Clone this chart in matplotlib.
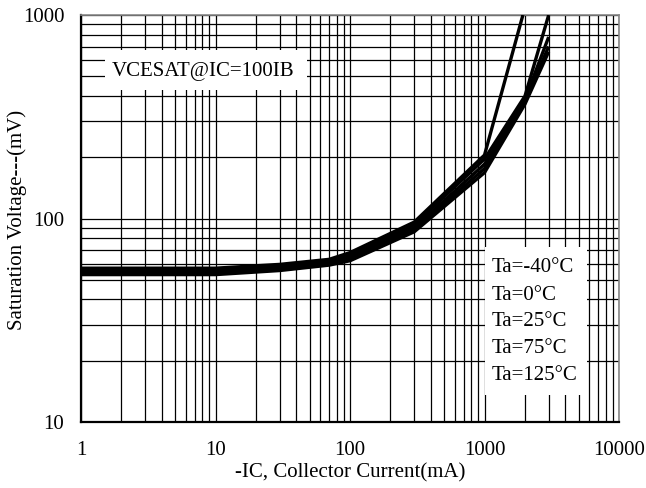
import matplotlib
matplotlib.use("Agg")
import matplotlib.pyplot as plt
from matplotlib.ticker import LogLocator, FixedLocator, NullFormatter
from matplotlib.patches import Rectangle
import numpy as np

plt.rcParams['font.family'] = ['Liberation Serif', 'DejaVu Serif']

# Data
x_a = [1, 3, 10, 30, 70, 100, 300, 1000, 1930]
y_a = [57, 57, 57, 59.5, 63, 68, 96, 205, 1000]
x_b = [1, 3, 10, 30, 70, 100, 300, 1000, 2000, 3000]
y_b = [56, 56, 56, 58.5, 62, 66, 93, 196, 400, 1000]
x_c = [1, 3, 10, 30, 70, 100, 300, 1000, 2000, 3000]
y_c = [55, 55, 55, 57.5, 61, 65, 90, 185, 385, 780]
x_d = [1, 3, 10, 30, 70, 100, 300, 1000, 2000, 3000]
y_d = [54, 54, 54, 56.5, 60, 63, 88, 176, 375, 700]
x_e = [1, 3, 10, 30, 70, 100, 300, 1000, 2000, 3000]
y_e = [53, 53, 53, 55.5, 59, 62, 86, 168, 365, 660]

legend_labels = ["Ta=-40°C", "Ta=0°C", "Ta=25°C", "Ta=75°C", "Ta=125°C"]
x_ticks = [1, 10, 100, 1000, 10000]
x_ticklabels = ["1", "10", "100", "1000", "10000"]
y_ticks = [10, 100, 1000]
y_ticklabels = ["10", "100", "1000"]

W, H = 646, 488
L, R, T, B = 81, 619, 15, 422

def ax_x(px):
    return (px - L) / (R - L)

def ax_y(py):
    return 1 - (py - T) / (B - T)

fig = plt.figure(figsize=(W / 100, H / 100), dpi=100)
ax = fig.add_axes([L / W, 1 - B / H, (R - L) / W, (B - T) / H])
ax.set_xscale('log')
ax.set_yscale('log')
ax.set_xlim(1, 10000)
ax.set_ylim(10, 1000)

# grid
ax.xaxis.set_major_locator(FixedLocator(x_ticks))
ax.yaxis.set_major_locator(FixedLocator(y_ticks))
ax.xaxis.set_minor_locator(LogLocator(base=10, subs=np.arange(2, 10)))
ax.yaxis.set_minor_locator(LogLocator(base=10, subs=np.arange(2, 10)))
ax.xaxis.set_minor_formatter(NullFormatter())
ax.yaxis.set_minor_formatter(NullFormatter())
ax.set_xticklabels(x_ticklabels)
ax.set_yticklabels(y_ticklabels)
ax.grid(True, which='both', color='black', linewidth=0.9)
ax.set_axisbelow(True)
ax.tick_params(which='both', length=0)
ax.tick_params(axis='x', pad=14, labelsize=15)
ax.tick_params(axis='y', pad=12, labelsize=15)

for xs, ys in [(x_a, y_a), (x_b, y_b), (x_c, y_c), (x_d, y_d), (x_e, y_e)]:
    ax.plot(xs, ys, color='black', linewidth=2.4, solid_capstyle='butt', zorder=3)

for side in ['top', 'right']:
    ax.spines[side].set_color('#888888')
    ax.spines[side].set_linewidth(1.2)
for side in ['left', 'bottom']:
    ax.spines[side].set_color('black')
    ax.spines[side].set_linewidth(1.6)

# annotation box
ax.add_patch(Rectangle((ax_x(105), ax_y(90)), ax_x(307) - ax_x(105), ax_y(50) - ax_y(90),
                       transform=ax.transAxes, facecolor='white', edgecolor='none', zorder=4))
ax.text(ax_x(203), ax_y(71), "VCESAT@IC=100IB", transform=ax.transAxes, fontsize=15,
        ha='center', va='center', zorder=5)

# legend box
ax.add_patch(Rectangle((ax_x(485), ax_y(395)), ax_x(587) - ax_x(485), ax_y(247) - ax_y(395),
                       transform=ax.transAxes, facecolor='white', edgecolor='none', zorder=4))
ys_pix = [268, 296, 322, 348, 375]
for lab, yp in zip(legend_labels, ys_pix):
    ax.text(ax_x(492), ax_y(yp), lab, transform=ax.transAxes, fontsize=15,
            ha='left', va='center', zorder=5)

ax.set_xlabel("-IC, Collector Current(mA)", fontsize=15)
ax.set_ylabel("Saturation Voltage---(mV)", fontsize=15)
ax.xaxis.set_label_coords(ax_x(350), ax_y(473), transform=ax.transAxes)
ax.yaxis.set_label_coords(ax_x(17), ax_y(220), transform=ax.transAxes)
ax.yaxis.label.set_va('center')
ax.xaxis.label.set_va('center')

fig.savefig("out.png", dpi=100)
